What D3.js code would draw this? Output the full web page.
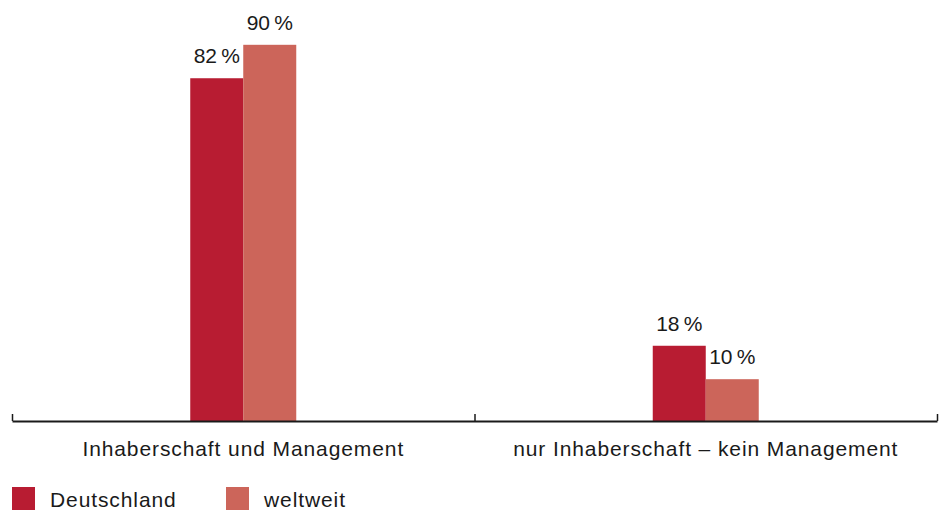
<!DOCTYPE html>
<html lang="de">
<head>
<meta charset="utf-8">
<script src="https://d3js.org/d3.v7.min.js"></script>
<style>
  body { margin: 0; background: #fff; }
  text { font-family: "Liberation Sans", Arial, sans-serif; fill: #1a1a1a; letter-spacing: 0.9px; }
</style>
</head>
<body>
<script>
  var width = 950, height = 510;

  // data
  var categories = ["Inhaberschaft und Management", "nur Inhaberschaft \u2013 kein Management"];
  var series = ["Deutschland", "weltweit"];
  var deutschland = [82, 18];
  var weltweit = [90, 10];
  var colors = ["#b81c32", "#cc655a"];

  var rows = categories.map(function(c, i) {
    return { cat: c, values: [deutschland[i], weltweit[i]] };
  });

  var svg = d3.select("body").append("svg")
    .attr("width", width)
    .attr("height", height);

  var left = 12, right = 937, base = 421;
  var fs = 21;

  var x0 = d3.scaleBand()
    .domain(categories)
    .range([left, right])
    .paddingInner(0);

  var barW = 53;
  var x1 = d3.scaleBand()
    .domain(series)
    .range([x0.bandwidth() / 2 - barW, x0.bandwidth() / 2 + barW]);

  var y = d3.scaleLinear()
    .domain([0, 100])
    .range([base, 3]);

  var groups = svg.append("g").selectAll("g")
    .data(rows)
    .enter().append("g")
    .attr("transform", function(d) { return "translate(" + x0(d.cat) + ",0)"; });

  groups.selectAll("rect")
    .data(function(d) { return d.values.map(function(v, i) { return { s: series[i], v: v, i: i }; }); })
    .enter().append("rect")
    .attr("x", function(d) { return x1(d.s); })
    .attr("width", x1.bandwidth())
    .attr("y", function(d) { return y(d.v); })
    .attr("height", function(d) { return base - y(d.v); })
    .attr("fill", function(d) { return colors[d.i]; });

  groups.selectAll("text.val")
    .data(function(d) { return d.values.map(function(v, i) { return { s: series[i], v: v }; }); })
    .enter().append("text")
    .attr("class", "val")
    .attr("x", function(d) { return x1(d.s) + x1.bandwidth() / 2; })
    .attr("y", function(d) { return y(d.v) - 15; })
    .attr("text-anchor", "middle")
    .attr("font-size", fs)
    .text(function(d) { return d.v + "\u202f%"; });

  // boundary ticks
  var xb = d3.scaleLinear().domain([0, categories.length]).range([left, right]);
  var axis = svg.append("g")
    .attr("transform", "translate(0," + base + ")")
    .call(d3.axisBottom(xb)
      .tickValues(d3.range(categories.length + 1))
      .tickSizeInner(-7)
      .tickSizeOuter(0)
      .tickFormat(""));
  axis.select(".domain").attr("stroke", "#1a1a1a").attr("stroke-width", 2);
  axis.selectAll(".tick line").attr("stroke", "#1a1a1a").attr("stroke-width", 1.5);

  // category labels
  var catAxis = svg.append("g")
    .attr("transform", "translate(0," + base + ")")
    .call(d3.axisBottom(x0).tickSize(0).tickPadding(20));
  catAxis.select(".domain").remove();
  catAxis.selectAll("text")
    .attr("font-size", fs)
    .attr("font-family", "Liberation Sans, Arial, sans-serif")
    .attr("fill", "#1a1a1a");

  // legend
  var legend = svg.append("g").attr("transform", "translate(12,487)");
  var lg = legend.selectAll("g")
    .data(series)
    .enter().append("g")
    .attr("transform", function(d, i) { return "translate(" + (i * 214) + ",0)"; });
  lg.append("rect")
    .attr("width", 23).attr("height", 23)
    .attr("fill", function(d, i) { return colors[i]; });
  lg.append("text")
    .attr("x", 38).attr("y", 19.5)
    .attr("font-size", fs)
    .text(function(d) { return d; });
</script>
</body>
</html>
